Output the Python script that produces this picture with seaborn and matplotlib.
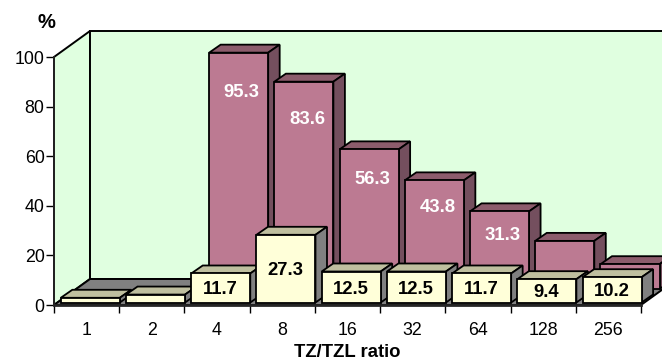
import matplotlib
matplotlib.use('Agg')
import matplotlib.pyplot as plt
from matplotlib.patches import Polygon
import seaborn as sns

ratios = ['1', '2', '4', '8', '16', '32', '64', '128', '256']
front_values = [1.9, 3.2, 11.7, 27.3, 12.5, 12.5, 11.7, 9.4, 10.2]
back_values = [0, 0, 95.3, 83.6, 56.3, 43.8, 31.3, 19.4, 10.0]
front_labels = ['', '', '11.7', '27.3', '12.5', '12.5', '11.7', '9.4', '10.2']
back_labels = ['', '', '95.3', '83.6', '56.3', '43.8', '31.3', '', '']

# pixels per data unit
PX_X = 65.2
PX_Y = 2.48

sns.set_style('white')
plt.rcParams['font.family'] = ['Liberation Sans', 'DejaVu Sans']

W, H = 662, 361
fig = plt.figure(figsize=(W / 100, H / 100), dpi=100)
ax = fig.add_axes([54 / W, 1 - 305 / H, 587 / W, 248 / H])
ax.patch.set_alpha(0)


def px(dx, dy):
    return dx / PX_X, dy / PX_Y


def poly(points, color, z, lw=1.3):
    ax.add_patch(Polygon(points, closed=True, facecolor=color, edgecolor='black',
                         linewidth=lw, zorder=z, clip_on=False))


def box(bar, off_x, off_y, top_color, side_color, z):
    # move the seaborn bar back in depth and put the top and side faces on it
    dx, dy = px(off_x, off_y)
    bar.set_x(bar.get_x() + dx)
    bar.set_y(dy)
    bar.set_clip_on(False)
    bar.set_zorder(z + 0.2)
    x0, x1 = bar.get_x(), bar.get_x() + bar.get_width()
    y0, y1 = dy, dy + bar.get_height()
    ddx, ddy = px(11.5, 8)
    poly([(x0, y1), (x1, y1), (x1 + ddx, y1 + ddy), (x0 + ddx, y1 + ddy)], top_color, z)
    poly([(x1, y0), (x1, y1), (x1 + ddx, y1 + ddy), (x1 + ddx, y0 + ddy)], side_color, z + 0.1)


sns.barplot(x=ratios, y=back_values, order=ratios, color='#BC7A92', saturation=1,
            width=0.905, edgecolor='black', linewidth=1.3, ax=ax)
sns.barplot(x=ratios, y=front_values, order=ratios, color='#FFFFD9', saturation=1,
            width=0.905, edgecolor='black', linewidth=1.3, ax=ax)
ax.set_xlim(-0.5, 8.5)
ax.set_ylim(0, 100)

# walls and floor
wx, wy = px(36, 26)
wall = '#E0FFE0'
poly([(-0.5, 0), (-0.5, 100), (-0.5 + wx, 100 + wy), (-0.5 + wx, wy)], wall, 1, 1.4)
poly([(-0.5 + wx, wy), (-0.5 + wx, 100 + wy), (8.5 + wx, 100 + wy), (8.5 + wx, wy)], wall, 1, 1.4)
poly([(-0.5, 0), (-0.5 + wx, wy), (8.5 + wx, wy), (8.5, 0)], '#808080', 1.5, 1.4)

for i, (bar, text) in enumerate(zip(ax.containers[0], back_labels)):
    if back_values[i] == 0:
        bar.set_visible(False)
        continue
    box(bar, 21.6, 16, '#8C5C6C', '#744F5E', 2 + i)
    if text:
        ly = bar.get_y() + bar.get_height() - (16.5 + 0.25 * back_values[i]) / PX_Y
        ax.text(bar.get_x() + bar.get_width() / 2 + 3 / PX_X, ly, text, color='white', fontsize=13.3,
                fontweight='bold', ha='center', va='center', zorder=30, clip_on=False)

for i, (bar, text) in enumerate(zip(ax.containers[1], front_labels)):
    box(bar, 3.7, 2.5, '#BFBF9F', '#808080', 12 + i)
    if text:
        ax.text(bar.get_x() + bar.get_width() / 2 - 0.5 / PX_X,
                bar.get_y() + bar.get_height() / 2 - 2 / PX_Y, text,
                color='black', fontsize=13.3, fontweight='bold', ha='center', va='center',
                zorder=30, clip_on=False)

ax.set_yticks([0, 20, 40, 60, 80, 100])
sns.despine(ax=ax, top=True, right=True)
ax.spines['left'].set_linewidth(1.3)
ax.spines['left'].set_zorder(25)
ax.spines['bottom'].set_linewidth(2.0)
ax.spines['bottom'].set_zorder(25)
ax.set_xticks([i - 0.5 for i in range(10)], minor=True)
ax.tick_params(axis='x', which='major', length=0, labelsize=12.8, pad=12, labelcolor='black')
ax.tick_params(axis='x', which='minor', bottom=True, length=5.8, width=1.0, color='black')
ax.tick_params(axis='y', left=True, length=5.8, width=1.0, color='black', labelsize=12.8, pad=1,
               labelcolor='black')
ax.set_xlabel('TZ/TZL ratio', fontsize=13.3, fontweight='bold', color='black', labelpad=4)
ax.set_ylabel('')
ax.text(-8 / 587, 1.141, '%', transform=ax.transAxes, fontsize=14.5,
        fontweight='bold', ha='center', va='center', color='black', clip_on=False)

fig.savefig('out.png', dpi=100)
